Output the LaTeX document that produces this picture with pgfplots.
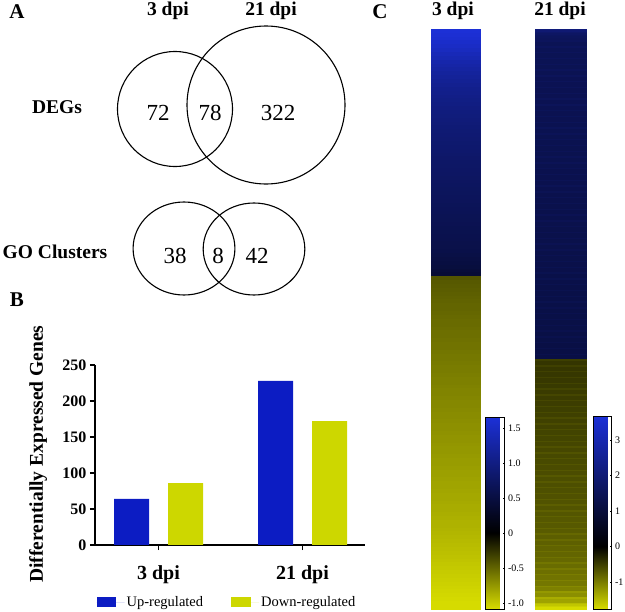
\documentclass[border=0pt]{standalone}
\usepackage{fontspec}
\setmainfont{Liberation Serif}
\usepackage{pgfplots}
\usepackage{pgfplotstable}
\pgfplotsset{compat=1.18}
\definecolor{upblue}{RGB}{12,28,195}
\definecolor{downyel}{RGB}{205,215,0}
\pgfplotsset{
  colormap={hmA}{rgb255(0cm)=(215,220,0) rgb255(3.96cm)=(0,0,0) rgb255(10cm)=(28,48,215)},
  colormap={hmB}{rgb255(0cm)=(215,220,0) rgb255(3.24cm)=(0,0,0) rgb255(10cm)=(28,48,215)}
}
\newcommand{\fLab}{\fontsize{19.5}{20}\selectfont\bfseries}
\newcommand{\fNum}{\fontsize{23}{24}\selectfont}
\newcommand{\fPan}{\fontsize{21}{22}\selectfont\bfseries}

% heatmap 3 dpi: 64 up, 86 down
\pgfplotstableread[row sep=\\, header=false]{
1.65\\1.63\\1.60\\1.56\\1.52\\1.47\\1.42\\1.37\\1.32\\1.28\\
1.24\\1.20\\1.17\\1.14\\1.11\\1.08\\1.06\\1.04\\1.02\\1.00\\
0.98\\0.96\\0.95\\0.93\\0.92\\0.90\\0.89\\0.88\\0.86\\0.85\\
0.84\\0.83\\0.82\\0.80\\0.79\\0.78\\0.77\\0.76\\0.75\\0.74\\
0.73\\0.72\\0.71\\0.70\\0.69\\0.68\\0.67\\0.66\\0.65\\0.64\\
0.63\\0.62\\0.61\\0.60\\0.59\\0.58\\0.57\\0.56\\0.54\\0.52\\
0.50\\0.48\\0.45\\0.42\\
-0.42\\-0.44\\-0.45\\-0.46\\-0.47\\-0.48\\-0.49\\-0.50\\-0.50\\-0.51\\
-0.52\\-0.53\\-0.53\\-0.54\\-0.55\\-0.55\\-0.56\\-0.57\\-0.57\\-0.58\\
-0.59\\-0.59\\-0.60\\-0.61\\-0.61\\-0.62\\-0.63\\-0.63\\-0.64\\-0.65\\
-0.65\\-0.66\\-0.67\\-0.67\\-0.68\\-0.69\\-0.69\\-0.70\\-0.71\\-0.71\\
-0.72\\-0.73\\-0.73\\-0.74\\-0.75\\-0.75\\-0.76\\-0.77\\-0.77\\-0.78\\
-0.79\\-0.79\\-0.80\\-0.81\\-0.81\\-0.82\\-0.83\\-0.83\\-0.84\\-0.85\\
-0.85\\-0.86\\-0.87\\-0.88\\-0.88\\-0.89\\-0.90\\-0.91\\-0.92\\-0.93\\
-0.94\\-0.95\\-0.96\\-0.97\\-0.98\\-0.99\\-1.00\\-1.01\\-1.02\\-1.03\\
-1.04\\-1.05\\-1.06\\-1.07\\-1.08\\-1.08\\
}\hmone

% heatmap 21 dpi: 228 up, 172 down
\pgfplotstableread[row sep=\\, header=false]{
2.10\\1.95\\1.80\\1.70\\
1.62\\1.58\\1.55\\1.52\\
1.57\\1.45\\1.45\\1.45\\
1.57\\1.45\\1.45\\1.45\\
1.56\\1.44\\1.44\\1.44\\
1.56\\1.44\\1.44\\1.44\\
1.55\\1.43\\1.43\\1.43\\
1.55\\1.43\\1.43\\1.43\\
1.54\\1.42\\1.42\\1.42\\
1.54\\1.42\\1.42\\1.42\\
1.53\\1.41\\1.41\\1.41\\
1.53\\1.41\\1.41\\1.41\\
1.52\\1.40\\1.40\\1.40\\
1.52\\1.40\\1.40\\1.40\\
1.51\\1.39\\1.39\\1.39\\
1.51\\1.39\\1.39\\1.39\\
1.50\\1.38\\1.38\\1.38\\
1.50\\1.38\\1.38\\1.38\\
1.49\\1.37\\1.37\\1.37\\
1.49\\1.37\\1.37\\1.37\\
1.48\\1.36\\1.36\\1.36\\
1.48\\1.36\\1.36\\1.36\\
1.47\\1.35\\1.35\\1.35\\
1.47\\1.35\\1.35\\1.35\\
1.46\\1.34\\1.34\\1.34\\
1.46\\1.34\\1.34\\1.34\\
1.45\\1.33\\1.33\\1.33\\
1.45\\1.33\\1.33\\1.33\\
1.44\\1.32\\1.32\\1.32\\
1.44\\1.32\\1.32\\1.32\\
1.43\\1.31\\1.31\\1.31\\
1.43\\1.31\\1.31\\1.31\\
1.42\\1.30\\1.30\\1.30\\
1.42\\1.30\\1.30\\1.30\\
1.41\\1.29\\1.29\\1.29\\
1.41\\1.29\\1.29\\1.29\\
1.40\\1.28\\1.28\\1.28\\
1.40\\1.28\\1.28\\1.28\\
1.39\\1.27\\1.27\\1.27\\
1.39\\1.27\\1.27\\1.27\\
1.38\\1.26\\1.26\\1.26\\
1.38\\1.26\\1.26\\1.26\\
1.37\\1.25\\1.25\\1.25\\
1.37\\1.25\\1.25\\1.25\\
1.36\\1.24\\1.24\\1.24\\
1.36\\1.24\\1.24\\1.24\\
1.35\\1.23\\1.23\\1.23\\
1.35\\1.23\\1.23\\1.23\\
1.34\\1.22\\1.22\\1.22\\
1.34\\1.22\\1.22\\1.22\\
1.33\\1.21\\1.21\\1.21\\
1.33\\1.21\\1.21\\1.21\\
1.32\\1.20\\1.20\\1.20\\
1.32\\1.20\\1.20\\1.20\\
1.31\\1.19\\1.19\\1.19\\
1.31\\1.19\\1.19\\1.19\\
1.30\\1.18\\1.18\\1.18\\
-0.50\\-0.42\\-0.42\\-0.42\\
-0.51\\-0.43\\-0.43\\-0.43\\
-0.52\\-0.44\\-0.44\\-0.44\\
-0.53\\-0.45\\-0.45\\-0.45\\
-0.54\\-0.46\\-0.46\\-0.46\\
-0.55\\-0.47\\-0.47\\-0.47\\
-0.56\\-0.48\\-0.48\\-0.48\\
-0.57\\-0.49\\-0.49\\-0.49\\
-0.58\\-0.50\\-0.50\\-0.50\\
-0.59\\-0.51\\-0.51\\-0.51\\
-0.60\\-0.52\\-0.52\\-0.52\\
-0.61\\-0.53\\-0.53\\-0.53\\
-0.62\\-0.54\\-0.54\\-0.54\\
-0.63\\-0.55\\-0.55\\-0.55\\
-0.64\\-0.56\\-0.56\\-0.56\\
-0.65\\-0.57\\-0.57\\-0.57\\
-0.66\\-0.58\\-0.58\\-0.58\\
-0.67\\-0.59\\-0.59\\-0.59\\
-0.68\\-0.60\\-0.60\\-0.60\\
-0.69\\-0.61\\-0.61\\-0.61\\
-0.70\\-0.62\\-0.62\\-0.62\\
-0.71\\-0.63\\-0.63\\-0.63\\
-0.72\\-0.64\\-0.64\\-0.64\\
-0.73\\-0.65\\-0.65\\-0.65\\
-0.74\\-0.66\\-0.66\\-0.66\\
-0.75\\-0.67\\-0.67\\-0.67\\
-0.77\\-0.69\\-0.69\\-0.69\\
-0.78\\-0.70\\-0.70\\-0.70\\
-0.79\\-0.71\\-0.71\\-0.71\\
-0.81\\-0.73\\-0.73\\-0.73\\
-0.83\\-0.75\\-0.75\\-0.75\\
-0.85\\-0.77\\-0.77\\-0.77\\
-0.87\\-0.79\\-0.79\\-0.79\\
-0.89\\-0.81\\-0.81\\-0.81\\
-0.91\\-0.83\\-0.83\\-0.83\\
-0.94\\-0.86\\-0.86\\-0.86\\
-0.97\\-0.89\\-0.89\\-0.89\\
-1.00\\-0.92\\-0.92\\-0.92\\
-1.03\\-0.95\\-0.95\\-0.95\\
-1.10\\-1.02\\-1.02\\-1.02\\
-1.22\\-1.14\\-1.14\\-1.14\\
-1.38\\-1.30\\-1.30\\-1.30\\
-1.50\\-1.58\\-1.66\\-1.75\\
}\hmtwo

\begin{document}
\begin{tikzpicture}
\useasboundingbox (0,0) rectangle (625pt,-612pt);

% ---------- overlay axis: Venn diagrams and free text (pixel coordinates) ----------
\begin{axis}[at={(0pt,0pt)}, anchor=north west, scale only axis,
  width=625pt, height=612pt, xmin=0, xmax=625, ymin=0, ymax=612,
  y dir=reverse, hide axis, clip=false]
\addplot[black, only marks, mark=o, mark size=57.5pt, mark options={line width=1.1pt, black}] coordinates {(175,109)};
\addplot[black, only marks, mark=o, mark size=79pt, mark options={line width=1.1pt, black}] coordinates {(266,105)};
\addplot[black, only marks, mark=o, mark size=46.5pt, mark options={line width=1.1pt, black, xscale=1.095}] coordinates {(184,248.5)};
\addplot[black, only marks, mark=o, mark size=46pt, mark options={line width=1.1pt, black, xscale=1.105}] coordinates {(254,249)};
\node[font=\fPan] at (axis cs:17,11.2) {A};
\node[font=\fPan] at (axis cs:380,11.2) {C};
\node[font=\fPan] at (axis cs:17,299.6) {B};
\node[font=\fLab] at (axis cs:168,11) {3 dpi};
\node[font=\fLab] at (axis cs:271,11) {21 dpi};
\node[font=\fLab] at (axis cs:57,107.5) {DEGs};
\node[font=\fLab] at (axis cs:55,251.7) {GO Clusters};
\node[font=\fNum] at (axis cs:158,113) {72};
\node[font=\fNum] at (axis cs:210,113) {78};
\node[font=\fNum] at (axis cs:278,113) {322};
\node[font=\fNum] at (axis cs:175,255.5) {38};
\node[font=\fNum] at (axis cs:218,255.5) {8};
\node[font=\fNum] at (axis cs:257,255.5) {42};
\node[font=\fLab] at (axis cs:453,11) {3 dpi};
\node[font=\fLab] at (axis cs:560,11) {21 dpi};
\node[font=\fLab, rotate=90] at (axis cs:38,454) {Differentially Expressed Genes};
\end{axis}

% ---------- bar chart ----------
\begin{axis}[at={(95pt,-545pt)}, anchor=south west, scale only axis,
  width=270pt, height=180pt,
  ybar=19pt, bar width=35pt,
  xmin=-0.441, xmax=1.434, ymin=0, ymax=250,
  xtick={0,1}, xticklabels={3 dpi,21 dpi},
  ytick={0,50,100,150,200,250},
  axis x line*=bottom, axis y line*=left,
  axis line style={black, line width=1.2pt},
  tick align=outside, major tick length=5pt,
  tick style={black, line width=1.2pt},
  xticklabel style={font=\fontsize{20}{20}\selectfont\bfseries, yshift=-12pt},
  yticklabel style={font=\fontsize{16}{16}\selectfont\bfseries},
  /pgf/number format/assume math mode=true,
  legend style={at={(0.489,-0.317)}, anchor=center, draw=none, fill=none,
    legend columns=2, font=\fontsize{14.5}{15}\selectfont,
    /tikz/every even column/.append style={column sep=26pt}},
  clip=false]
\addplot[fill=upblue, draw=none,
  legend image code/.code={\fill[upblue] (0pt,-5pt) rectangle (19pt,5pt); \path (0pt,0pt) -- (28pt,0pt);}]
  coordinates {(0,64) (1,228)};
\addlegendentry{Up-regulated}
\addplot[fill=downyel, draw=none,
  legend image code/.code={\fill[downyel] (0pt,-5pt) rectangle (20pt,5pt); \path (0pt,0pt) -- (28pt,0pt);}]
  coordinates {(0,86) (1,172)};
\addlegendentry{Down-regulated}
\end{axis}

% ---------- heatmap 3 dpi ----------
\begin{axis}[at={(431pt,-29pt)}, anchor=north west, scale only axis,
  width=49pt, height=580pt,
  xmin=-0.5, xmax=0.5, ymin=0.5, ymax=150.5, y dir=reverse,
  xtick=\empty, ytick=\empty, axis on top,
  axis line style={black, line width=0.9pt},
  colormap name=hmA, point meta min=-1.086, point meta max=1.657,
  colorbar,
  colorbar style={at={(parent axis.south east)}, anchor=south west, xshift=-3pt,
    y dir=normal, scale only axis, width=19pt, height=192pt,
    ytick={-1,-0.5,0,0.5,1,1.5}, yticklabels={-1.0,-0.5,0,0.5,1.0,1.5},
    yticklabel style={font=\fontsize{10}{10}\selectfont},
    ytick pos=right, yticklabel pos=right,
    tick align=inside, major tick length=2pt, tick style={black},
    axis line style={black, line width=0.8pt}}]
\addplot[scatter, only marks, mark=square*, mark size=0.5pt, point meta=explicit,
  scatter/use mapped color={draw=mapped color, fill=mapped color},
  mark options={xscale=49, yscale=3.867}]
  table[x index=0, y index=0, x expr=0, y expr=\coordindex+1, meta index=0] {\hmone};
\end{axis}

% ---------- heatmap 21 dpi ----------
\begin{axis}[at={(535pt,-29pt)}, anchor=north west, scale only axis,
  width=51pt, height=580pt,
  xmin=-0.5, xmax=0.5, ymin=0.5, ymax=400.5, y dir=reverse,
  xtick=\empty, ytick=\empty, axis on top,
  axis line style={black, line width=0.9pt},
  colormap name=hmB, point meta min=-1.76, point meta max=3.68,
  colorbar,
  colorbar style={at={(parent axis.south east)}, anchor=south west, xshift=-1pt,
    y dir=normal, scale only axis, width=18pt, height=193pt,
    ytick={-1,0,1,2,3}, yticklabels={-1,0,1,2,3},
    yticklabel style={font=\fontsize{10}{10}\selectfont},
    ytick pos=right, yticklabel pos=right,
    tick align=inside, major tick length=2pt, tick style={black},
    axis line style={black, line width=0.8pt}}]
\addplot[scatter, only marks, mark=square*, mark size=0.5pt, point meta=explicit,
  scatter/use mapped color={draw=mapped color, fill=mapped color},
  mark options={xscale=51, yscale=1.45}]
  table[x index=0, y index=0, x expr=0, y expr=\coordindex+1, meta index=0] {\hmtwo};
\end{axis}
\end{tikzpicture}
\end{document}
